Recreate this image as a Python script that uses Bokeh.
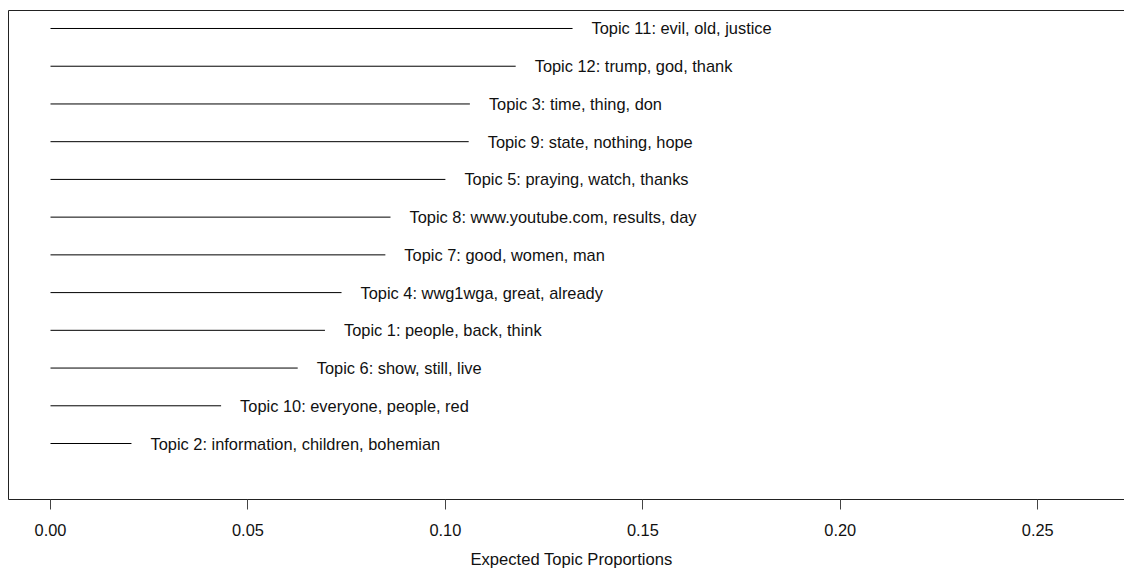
from bokeh.plotting import figure
from bokeh.models import ColumnDataSource, LinearAxis, FixedTicker, Range1d, Title
from bokeh.core.properties import value
from bokeh.embed import file_html
from bokeh.resources import INLINE

# ---- data ----
topic_ids = [11, 12, 3, 9, 5, 8, 7, 4, 1, 6, 10, 2]
top_words = [
    "evil, old, justice",
    "trump, god, thank",
    "time, thing, don",
    "state, nothing, hope",
    "praying, watch, thanks",
    "www.youtube.com, results, day",
    "good, women, man",
    "wwg1wga, great, already",
    "people, back, think",
    "show, still, live",
    "everyone, people, red",
    "information, children, bohemian",
]
proportions = [0.1322, 0.1178, 0.1062, 0.1059, 0.1000, 0.0861,
               0.0848, 0.0737, 0.0695, 0.0626, 0.0432, 0.0205]
tick_values = [0.00, 0.05, 0.10, 0.15, 0.20, 0.25]
tick_labels = ["0.00", "0.05", "0.10", "0.15", "0.20", "0.25"]
x_title = "Expected Topic Proportions"

# ---- build ----
n = len(proportions)
order = sorted(range(n), key=lambda i: proportions[i])
rank = [0] * n
for r, i in enumerate(order):
    rank[i] = r + 1

src = ColumnDataSource(dict(
    prop=proportions,
    zero=[0.0] * n,
    rank=rank,
    label=[f"Topic {t}: {w}" for t, w in zip(topic_ids, top_words)],
))

FONT = "Liberation Sans"

p = figure(width=1124, height=579, output_backend="svg", toolbar_location=None,
           x_range=Range1d(-0.010636, 0.27197), y_range=Range1d(-0.484, 12.477),
           min_border_left=8, min_border_right=0, min_border_top=10,
           min_border_bottom=80, y_axis_location=None)
p.grid.visible = False
p.outline_line_color = None
p.background_fill_color = "white"
p.border_fill_color = "white"

p.segment(x0="zero", y0="rank", x1="prop", y1="rank", source=src,
          line_color="black", line_width=1)
p.text(x="prop", y="rank", text="label", source=src, x_offset=19,
       text_baseline="middle", text_align="left",
       text_font=value(FONT), text_font_size="16.4px", text_color="#111111")

ax = p.xaxis[0]
ax.ticker = FixedTicker(ticks=tick_values)
ax.major_label_overrides = {v: l for v, l in zip(tick_values, tick_labels)}
ax.major_tick_out = 10
ax.major_tick_in = 0
ax.minor_tick_out = 0
ax.minor_tick_in = 0
ax.minor_tick_line_color = None
ax.major_tick_line_color = "#444444"
ax.axis_line_color = "#222222"
ax.major_label_standoff = 14
ax.major_label_text_font = FONT
ax.major_label_text_font_size = "16.4px"
ax.major_label_text_color = "#111111"

for loc in ("above", "left"):
    a = LinearAxis(ticker=FixedTicker(ticks=[]), major_label_text_font_size="0px",
                   major_tick_line_color=None, minor_tick_line_color=None,
                   major_tick_out=0, major_tick_in=0, minor_tick_out=0, minor_tick_in=0,
                   major_label_standoff=0, axis_line_color="#222222")
    p.add_layout(a, loc)

# x-axis title as a title panel below the axis
t = Title(text=x_title, align="left", offset=462, standoff=19,
          text_font=FONT, text_font_size="16.6px", text_font_style="normal",
          text_color="#111111")
p.add_layout(t, "below")

open("out.html", "w").write(file_html(p, INLINE))
